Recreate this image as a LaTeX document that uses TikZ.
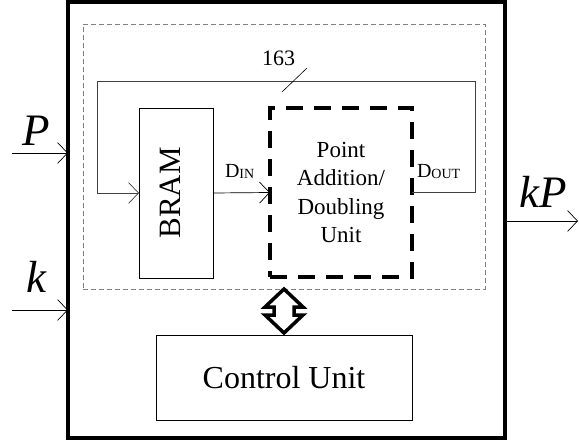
\documentclass[tikz,border=0pt]{standalone}
\usepackage{fontspec}
\setmainfont{Liberation Serif}
\usetikzlibrary{arrows.meta}

\begin{document}
\begin{tikzpicture}[x=1pt,y=-1pt]
        \tikzstyle{every node}=[inner sep=0pt, outer sep=0pt]
        \tikzstyle{block}=[draw, line width=0.8pt, align=center]
        \tikzstyle{unitbox}=[draw, line width=4.5pt, dash pattern=on 17pt off 11pt, align=center]
        \tikzstyle{region}=[draw=gray, line width=0.8pt, dash pattern=on 5pt off 3pt]
        \tikzstyle{sig}=[line width=0.7pt, -{Straight Barb[length=10pt,width=21pt]}]
        \tikzstyle{busarrow}=[draw, line width=3.5pt, line join=miter]
        \tikzstyle{port}=[font=\fontsize{45}{50}\selectfont\itshape, anchor=base]
        \useasboundingbox (0,0) rectangle (579,442);
        % blocks
        \node[draw, line width=3.5pt, minimum width=437pt, minimum height=436pt] (top) at (286.5,220) {};
        \node[region, minimum width=402pt, minimum height=265pt] (dp) at (284,156.5) {};
        \node[block, minimum width=74pt, minimum height=170pt] (bram) at (176,193) {};
        \node[rotate=90, font=\fontsize{31}{36}\selectfont] (bramtxt) at ([xshift=-5.5pt]bram.center) {BRAM};
        \node[unitbox, minimum width=142pt, minimum height=169pt, font=\fontsize{23}{28.5}\selectfont] (pad) at (341,192.5) {Point\\Addition/\\Doubling\\Unit};
        \node[block, minimum width=256pt, minimum height=85pt, font=\fontsize{32}{38}\selectfont] (cu) at (284,377.5) {Control Unit};
        % bus between datapath and control
        \coordinate (bus) at (284,311);
        \draw[busarrow] (bus) ++(0,-22) -- ++(19,18) -- ++(-9,0) -- ++(0,8) -- ++(9,0) -- ++(-19,18) -- ++(-19,-18) -- ++(9,0) -- ++(0,-8) -- ++(-9,0) -- cycle;
        % ports
        \node[port] (p) at (36,145) {P};
        \node[port] (k) at (36,292) {k};
        \node[port] (kp) at (543,207) {kP};
        \coordinate (pin) at (12,153);
        \coordinate (kin) at (12,310);
        \coordinate (kpout) at (578,221);
        \draw[sig] (pin) -- (pin -| top.west);
        \draw[sig] (kin) -- (kin -| top.west);
        \draw[sig] (kpout -| top.east) -- (kpout);
        % datapath
        \coordinate (fbr) at (475,81);
        \coordinate (fbl) at (97,81);
        \draw[sig, draw=black!75] (pad.east) -| (fbr) -- (fbl) |- (bram.west);
        \draw[sig] (bram.east) -- (pad.west);
        \node[anchor=base, font=\fontsize{22}{26}\selectfont] (width) at (278.5,65) {163};
        \coordinate (mark) at (294.5,80);
        \draw[line width=0.6pt] ([shift={(-12.5,12)}]mark) -- ([shift={(12.5,-12)}]mark);
        \node[anchor=base west, font=\fontsize{20}{24}\selectfont] (din) at (225,177) {D\raisebox{-1.5pt}{\fontsize{14}{14}\selectfont IN}};
        \node[anchor=base west, font=\fontsize{20}{24}\selectfont] (dout) at (417,177) {D\raisebox{-1pt}{\fontsize{14}{14}\selectfont OUT}};
    \end{tikzpicture}
\end{document}
